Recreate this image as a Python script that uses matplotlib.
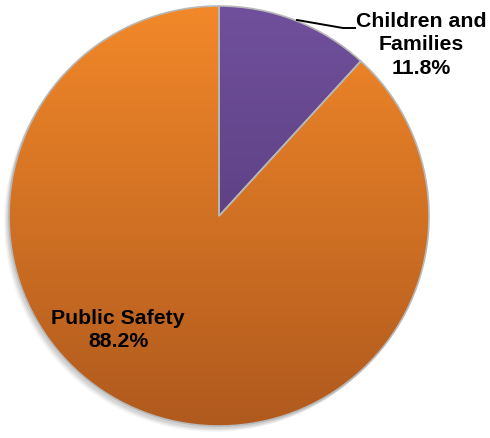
import matplotlib.pyplot as plt
import numpy as np
from matplotlib.colors import LinearSegmentedColormap

categories = ['Children and\nFamilies', 'Public Safety']
shares = [11.8, 88.2]

W, H = 490, 438
cx, cy, r = 219, 438 - 216, 210

fig = plt.figure(figsize=(W / 100, H / 100), dpi=100)
ax = fig.add_axes([0, 0, 1, 1])

# soft shadow
for i, a in enumerate([0.06, 0.05, 0.04, 0.03]):
    sh = plt.Circle((cx - 2 - i, cy - 3 - i), r, color='black', alpha=a, lw=0, zorder=0)
    ax.add_patch(sh)

wedges, _ = ax.pie(shares, startangle=90, counterclock=False, center=(cx, cy), radius=r,
                   wedgeprops=dict(edgecolor='#b8b8b8', linewidth=1.2), frame=True)

grads = [('#70509c', '#4c346e'), ('#f28829', '#b05a1e')]
grad = np.linspace(1, 0, 256).reshape(-1, 1)
for w, (top, bot) in zip(wedges, grads):
    w.set_facecolor('none')
    cmap = LinearSegmentedColormap.from_list('g', [bot, top])
    im = ax.imshow(grad, cmap=cmap, aspect='auto', origin='upper',
                   extent=(cx - r, cx + r, cy - r, cy + r), zorder=1)
    im.set_clip_path(w)
    w.set_zorder(2)

ax.set_xlim(0, W)
ax.set_ylim(0, H)
ax.set_aspect('auto')
ax.axis('off')

font = dict(family='Liberation Sans', fontweight='bold', fontsize=15.3, color='black',
            ha='center', va='center', linespacing=1.28)
ax.text(421, H - 45, f'{categories[0]}\n{shares[0]}%', zorder=5, **font)
ax.text(118, H - 330, f'{categories[1]}\n{shares[1]}%', zorder=5, **font)

ax.plot([297, 343, 355], [H - 20, H - 28, H - 28], color='black', lw=1.4, zorder=5)

fig.savefig('out.png', dpi=100)
